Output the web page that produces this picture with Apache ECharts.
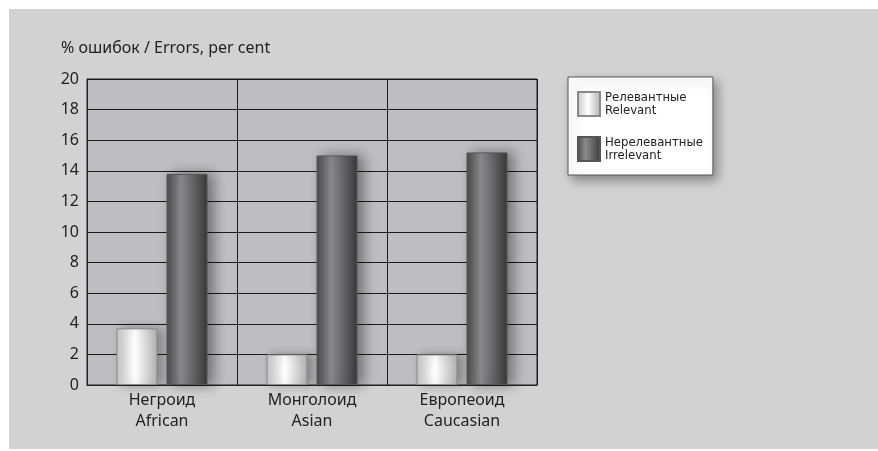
<!DOCTYPE html>
<html>
<head>
<meta charset="utf-8">
<script src="https://cdn.jsdelivr.net/npm/echarts@6/dist/echarts.min.js"></script>
<style>
    html, body { margin: 0; padding: 0; background: #fff; }
    #chart { width: 878px; height: 451px; }
</style>
</head>
<body>
<div id="chart"></div>
<script>
// данные
const categories = ['Негроид\nAfrican', 'Монголоид\nAsian', 'Европеоид\nCaucasian']
const relevant = [3.7, 2.0, 2.0]
const irrelevant = [13.8, 15.0, 15.2]
const seriesNames = ['Релевантные\nRelevant', 'Нерелевантные\nIrrelevant']
const yTicks = { min: 0, max: 20, step: 2 }

const font = "'Noto Sans', 'Open Sans', sans-serif"
const narrow = "'Liberation Sans Narrow', 'DejaVu Sans Condensed', sans-serif"

const chart = echarts.init(document.getElementById('chart'))

const option = {
    animation: false,
    backgroundColor: '#fff',
    graphic: [
        {
            type: 'rect',
            z: -10,
            shape: { x: 9, y: 9, width: 869, height: 440 },
            style: { fill: '#d1d2d4' },
            silent: true
        }
    ],
    title: {
        text: '% ошибок / Errors, per cent',
        left: 61,
        top: 40,
        padding: 0,
        textStyle: { fontFamily: font, fontSize: 16, fontWeight: 'normal', color: '#222' }
    },
    legend: {
        orient: 'vertical',
        left: 568,
        top: 77,
        padding: [14, 10, 13, 9],
        itemGap: 19,
        itemWidth: 22,
        itemHeight: 24,
        icon: 'rect',
        backgroundColor: '#fff',
        borderColor: '#555',
        borderWidth: 1,
        shadowBlur: 10,
        shadowColor: 'rgba(0,0,0,0.35)',
        shadowOffsetX: 4,
        shadowOffsetY: 5,
        textStyle: { fontFamily: narrow, fontSize: 13, lineHeight: 13, color: '#222' },
        data: seriesNames
    },
    grid: {
        left: 87,
        top: 79,
        width: 450,
        height: 306,
        show: true,
        backgroundColor: '#bdbec2',
        borderColor: '#222',
        borderWidth: 1
    },
    xAxis: {
        type: 'category',
        data: categories,
        axisLine: { lineStyle: { color: '#222' } },
        axisTick: { show: false },
        splitLine: { show: true, lineStyle: { color: '#1a1a1a', width: 1 } },
        axisLabel: { fontFamily: font, fontSize: 16, lineHeight: 21, color: '#222', margin: 5 }
    },
    yAxis: {
        type: 'value',
        min: yTicks.min,
        max: yTicks.max,
        interval: yTicks.step,
        axisLine: { show: true, lineStyle: { color: '#222' } },
        axisTick: { show: false },
        splitLine: { lineStyle: { color: '#1a1a1a', width: 1 } },
        axisLabel: { fontFamily: font, fontSize: 16, color: '#222', margin: 8 }
    },
    series: [
        {
            name: seriesNames[0],
            type: 'bar',
            data: relevant,
            barWidth: 41,
            barGap: '22%',
            itemStyle: {
                color: new echarts.graphic.LinearGradient(0, 0, 1, 0, [
                    { offset: 0, color: '#c4c4c4' },
                    { offset: 0.45, color: '#ffffff' },
                    { offset: 1, color: '#b0b0b0' }
                ]),
                borderColor: '#8a8a8a',
                borderWidth: 1,
                shadowBlur: 10,
                shadowColor: 'rgba(0,0,0,0.3)',
                shadowOffsetX: 5
            }
        },
        {
            name: seriesNames[1],
            type: 'bar',
            data: irrelevant,
            barWidth: 41,
            itemStyle: {
                color: new echarts.graphic.LinearGradient(0, 0, 1, 0, [
                    { offset: 0, color: '#4a4a4c' },
                    { offset: 0.35, color: '#8a8b8e' },
                    { offset: 0.7, color: '#5e5f62' },
                    { offset: 1, color: '#38383a' }
                ]),
                borderColor: '#555',
                borderWidth: 1,
                shadowBlur: 12,
                shadowColor: 'rgba(0,0,0,0.4)',
                shadowOffsetX: 6
            }
        }
    ]
}

chart.setOption(option)
</script>
</body>
</html>
